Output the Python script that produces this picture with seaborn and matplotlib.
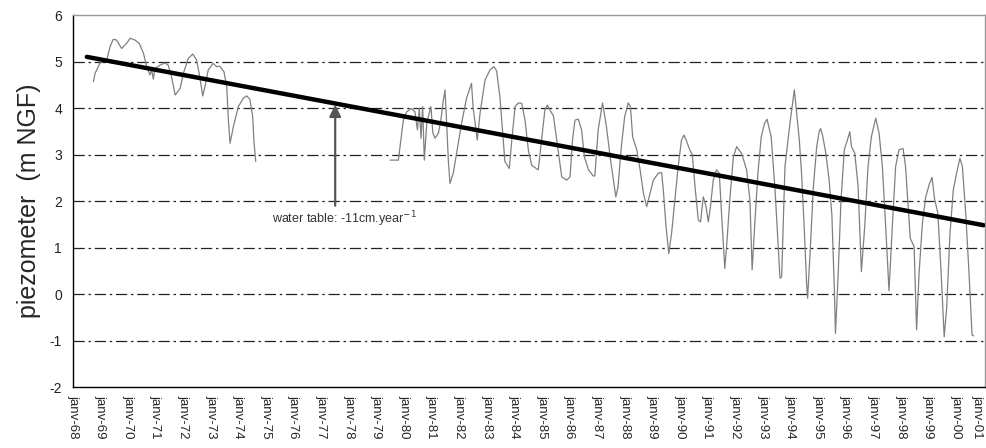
import numpy as np
import pandas as pd
import matplotlib
matplotlib.use("Agg")
import matplotlib.pyplot as plt
from matplotlib.ticker import MultipleLocator, FixedLocator
import seaborn as sns

# piezometer record (decimal year, m NGF)
years_a = [1968.74, 1968.80, 1968.98, 1969.22, 1969.34, 1969.46, 1969.58, 1969.76, 1969.94,
           1970.07, 1970.25, 1970.40, 1970.55, 1970.67, 1970.79, 1970.85, 1970.91, 1970.97,
           1971.15, 1971.33, 1971.45, 1971.57, 1971.70, 1971.88, 1972.00, 1972.18, 1972.34,
           1972.48, 1972.60, 1972.70, 1972.78, 1972.90, 1973.08, 1973.20, 1973.32, 1973.47,
           1973.57, 1973.63, 1973.69, 1973.81, 1973.99, 1974.17, 1974.29, 1974.41, 1974.51,
           1974.56, 1974.62]
vals_a = [4.57, 4.75, 4.97, 5.03, 5.32, 5.48, 5.46, 5.28, 5.39,
          5.50, 5.46, 5.39, 5.18, 4.89, 4.71, 4.82, 4.62, 4.85,
          4.92, 4.97, 4.92, 4.67, 4.28, 4.42, 4.75, 5.07, 5.16,
          5.03, 4.64, 4.26, 4.46, 4.82, 4.96, 4.89, 4.90, 4.78,
          4.46, 3.74, 3.24, 3.60, 4.03, 4.21, 4.26, 4.19, 3.81,
          3.25, 2.85]

years_b = [1979.49, 1979.79, 1979.88, 1979.97, 1980.09, 1980.27, 1980.39, 1980.48, 1980.55,
           1980.61, 1980.67, 1980.73, 1980.82, 1980.97, 1981.04, 1981.12, 1981.24, 1981.33,
           1981.42, 1981.48, 1981.54, 1981.60, 1981.66, 1981.78, 1981.90, 1982.08, 1982.26,
           1982.44, 1982.50, 1982.65, 1982.75, 1982.93, 1983.11, 1983.25, 1983.35, 1983.47,
           1983.59, 1983.65, 1983.81, 1983.90, 1984.02, 1984.14, 1984.26, 1984.38, 1984.50,
           1984.62, 1984.86, 1984.98, 1985.10, 1985.19, 1985.29, 1985.41, 1985.53, 1985.71,
           1985.89, 1986.01, 1986.10, 1986.19, 1986.31, 1986.43, 1986.53, 1986.68, 1986.85,
           1986.91, 1987.03, 1987.19, 1987.33, 1987.48, 1987.67, 1987.75, 1987.87, 1987.99,
           1988.12, 1988.20, 1988.28, 1988.43, 1988.55, 1988.67, 1988.79, 1988.91, 1989.03,
           1989.21, 1989.33, 1989.39, 1989.49, 1989.59, 1989.69, 1989.81, 1989.93, 1990.05,
           1990.14, 1990.22, 1990.35, 1990.44, 1990.54, 1990.66, 1990.74, 1990.84, 1990.94,
           1991.02, 1991.10, 1991.20, 1991.32, 1991.42, 1991.50, 1991.62, 1991.70, 1991.80,
           1991.93, 1992.05, 1992.23, 1992.41, 1992.53, 1992.61, 1992.70, 1992.82, 1992.94,
           1993.06, 1993.15, 1993.30, 1993.44, 1993.62, 1993.68, 1993.74, 1993.80, 1993.98,
           1994.14, 1994.22, 1994.32, 1994.40, 1994.49, 1994.59, 1994.62, 1994.71, 1994.83,
           1994.95, 1995.04, 1995.09, 1995.16, 1995.28, 1995.40, 1995.50, 1995.59, 1995.63,
           1995.73, 1995.83, 1995.95, 1996.03, 1996.15, 1996.21, 1996.33, 1996.45, 1996.57,
           1996.69, 1996.81, 1996.93, 1997.09, 1997.21, 1997.33, 1997.45, 1997.57, 1997.69,
           1997.81, 1997.93, 1998.08, 1998.17, 1998.34, 1998.48, 1998.57, 1998.66, 1998.78,
           1998.90, 1999.04, 1999.13, 1999.22, 1999.34, 1999.46, 1999.57, 1999.66, 1999.78,
           1999.90, 2000.02, 2000.14, 2000.23, 2000.35, 2000.47, 2000.58, 2000.64]
vals_b = [2.88, 2.88, 3.31, 3.74, 3.92, 3.99, 3.92, 3.53, 3.99,
          3.35, 4.03, 2.88, 3.68, 4.03, 3.46, 3.35, 3.46, 3.74,
          4.17, 4.39, 3.67, 2.88, 2.38, 2.60, 3.03, 3.67, 4.21,
          4.53, 4.00, 3.31, 3.89, 4.60, 4.82, 4.89, 4.80, 4.24,
          3.31, 2.85, 2.70, 3.31, 4.03, 4.11, 4.10, 3.74, 3.10,
          2.77, 2.67, 3.31, 3.96, 4.06, 3.95, 3.83, 3.31, 2.52,
          2.45, 2.52, 3.31, 3.74, 3.76, 3.53, 2.95, 2.67, 2.54,
          2.54, 3.53, 4.11, 3.60, 2.88, 2.09, 2.30, 3.17, 3.81,
          4.11, 4.03, 3.38, 3.10, 2.67, 2.17, 1.88, 2.17, 2.45,
          2.60, 2.61, 2.25, 1.45, 0.87, 1.30, 2.02, 2.74, 3.31,
          3.42, 3.31, 3.10, 3.00, 2.31, 1.59, 1.55, 2.09, 1.88,
          1.55, 1.88, 2.45, 2.67, 2.60, 1.74, 0.55, 1.15, 2.02,
          2.95, 3.17, 3.02, 2.67, 2.02, 0.52, 1.45, 2.60, 3.38,
          3.67, 3.76, 3.38, 2.24, 0.34, 0.37, 1.52, 2.74, 3.67,
          4.39, 3.90, 3.31, 2.60, 1.52, 0.16, -0.09, 0.88, 2.31,
          3.17, 3.49, 3.56, 3.42, 3.03, 2.45, 1.70, 0.09, -0.85,
          0.45, 2.02, 3.10, 3.25, 3.49, 3.17, 3.03, 2.31, 0.48,
          1.45, 2.74, 3.38, 3.78, 3.46, 2.74, 1.45, 0.07, 1.45,
          2.74, 3.10, 3.13, 2.74, 1.20, 1.02, -0.77, 0.45, 1.52,
          2.09, 2.38, 2.51, 2.05, 1.74, 0.45, -0.92, -0.30, 1.30,
          2.24, 2.60, 2.92, 2.74, 1.74, 0.45, -0.88, -0.90]

# linear trend, -11 cm per year
trend_years = [1968.5, 2001.0]
trend_vals = [5.10, 1.48]

year_ticks = list(range(1968, 2002))
tick_labels = [f"janv-{y % 100:02d}" for y in year_ticks]
y_ticks = [-2, -1, 0, 1, 2, 3, 4, 5, 6]

series = pd.concat([
    pd.DataFrame({"year": years_a, "level": vals_a, "segment": "a"}),
    pd.DataFrame({"year": years_b, "level": vals_b, "segment": "b"}),
])
trend = pd.DataFrame({"year": trend_years, "level": trend_vals})

sns.set_style("white")
plt.rcParams["font.family"] = ["Liberation Sans", "DejaVu Sans"]

fig = plt.figure(figsize=(9.87, 4.48), dpi=100)
ax = fig.add_axes([0.074, 0.136, 0.924, 0.8305])

for yv in y_ticks[1:-1]:
    ax.axhline(yv, color="#222222", lw=0.9, linestyle=(0, (9, 3, 2, 3)), zorder=1)

sns.lineplot(data=series, x="year", y="level", units="segment", estimator=None,
             color="#808080", lw=0.9, ax=ax, zorder=2)
sns.lineplot(data=trend, x="year", y="level", color="black", lw=3.2, ax=ax, zorder=3)

ax.annotate("", xy=(1977.5, 4.07), xytext=(1977.5, 1.9),
            arrowprops=dict(arrowstyle="-|>,head_length=0.7,head_width=0.35",
                            color="#555555", lw=1.6, shrinkA=0, shrinkB=0), zorder=4)
ax.text(1977.85, 1.62, "water table: -11cm.year$^{-1}$", ha="center", va="center",
        fontsize=9, color="#333333", zorder=4)

ax.set_xlim(1968, 2001.05)
ax.set_ylim(-2, 6)
ax.xaxis.set_major_locator(FixedLocator(year_ticks))
ax.set_xticklabels(tick_labels, rotation=-90, fontsize=9.5)
# last label would run off the right edge; pull it in
ax.get_xticklabels()[-1].set_horizontalalignment("right")
ax.xaxis.set_minor_locator(MultipleLocator(0.2))
ax.set_yticks(y_ticks)
ax.set_yticklabels([str(v) for v in y_ticks], fontsize=10, color="#222222")
ax.tick_params(axis="x", which="major", direction="out", length=4, width=1, pad=2, color="black")
ax.tick_params(axis="x", which="minor", direction="out", length=3, width=0.8, color="black")
ax.tick_params(axis="y", direction="out", length=5, width=1, pad=3, color="black")
ax.set_xlabel("")
ax.set_ylabel("piezometer  (m NGF)", fontsize=18, labelpad=6)

for side in ["left", "bottom"]:
    ax.spines[side].set_color("black")
    ax.spines[side].set_linewidth(1)
for side in ["top", "right"]:
    ax.spines[side].set_color("#999999")
    ax.spines[side].set_linewidth(1)

fig.savefig("out.png", dpi=100)
